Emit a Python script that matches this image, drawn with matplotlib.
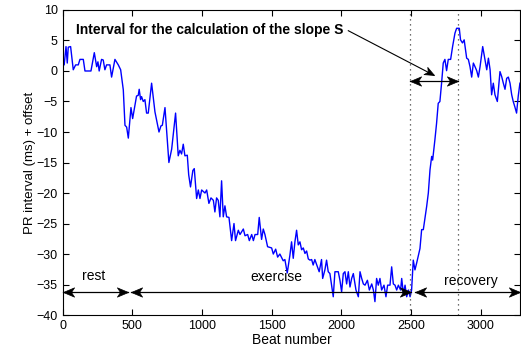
import matplotlib
matplotlib.use("Agg")
import matplotlib.pyplot as plt
import numpy as np
from matplotlib.path import Path
from matplotlib.markers import MarkerStyle
from matplotlib.transforms import Affine2D

plt.rcParams['font.family'] = ['Liberation Sans', 'DejaVu Sans']

# beat number / PR interval (ms) + offset
beats = [0, 12, 25, 34, 41, 58, 77, 94, 113, 125, 149, 161, 204, 228, 245, 254,
         263, 280, 292, 304, 316, 340, 352, 376, 400, 417, 436, 448, 460, 472,
         491, 503, 531, 543, 550, 560, 567, 579, 591, 603, 615, 639, 663, 692,
         706, 716, 735, 763, 783, 811, 830, 842, 854, 866, 878, 895, 905, 918,
         935, 945, 952, 962, 974, 986, 998, 1022, 1034, 1050, 1065, 1082, 1093,
         1105, 1117, 1129, 1141, 1153, 1165, 1177, 1194, 1213, 1230, 1241, 1261,
         1273, 1297, 1309, 1328, 1340, 1357, 1369, 1381, 1400, 1411, 1428, 1440,
         1452, 1471, 1500, 1512, 1529, 1543, 1559, 1583, 1595, 1612, 1631, 1643,
         1655, 1667, 1679, 1691, 1703, 1715, 1727, 1739, 1751, 1763, 1775, 1787,
         1798, 1810, 1827, 1841, 1858, 1866, 1882, 1894, 1906, 1918, 1930, 1942,
         1954, 1978, 1990, 2002, 2014, 2026, 2038, 2050, 2062, 2074, 2086, 2105,
         2122, 2134, 2146, 2158, 2170, 2187, 2201, 2218, 2230, 2241, 2253, 2265,
         2277, 2289, 2306, 2320, 2332, 2349, 2361, 2373, 2385, 2397, 2409, 2425,
         2433, 2445, 2457, 2469, 2481, 2493, 2504, 2516, 2528, 2540, 2564, 2576,
         2588, 2612, 2624, 2636, 2648, 2655, 2671, 2683, 2695, 2707, 2719, 2731,
         2743, 2755, 2767, 2784, 2798, 2815, 2827, 2846, 2855, 2869, 2881, 2899,
         2911, 2923, 2935, 2947, 2959, 2971, 2983, 2995, 3014, 3031, 3043, 3055,
         3067, 3078, 3090, 3102, 3119, 3138, 3150, 3162, 3174, 3186, 3198, 3210,
         3222, 3233, 3245, 3257, 3269, 3281]
pr = [1.8, 1.0, 4.0, 1.3, 3.9, 4.0, 0.2, 1.0, 1.0, 1.9, 1.9, 0.0, 0.0, 3.0, 0.7, 1.5,
      0.0, 1.9, 1.8, 0.2, 1.0, 1.0, -1.0, 1.9, 1.0, 0.2, -3.1, -8.9, -9.2, -11.0,
      -6.0, -7.8, -4.1, -4.0, -3.0, -4.7, -4.2, -5.0, -4.7, -6.9, -6.9, -2.0, -6.7, -10.0,
      -9.0, -8.9, -6.0, -15.0, -12.8, -6.9, -13.9, -13.0, -13.6, -12.0, -13.9, -13.8, -17.0, -19.0,
      -16.3, -16.0, -18.0, -20.9, -19.5, -20.9, -19.5, -20.0, -19.5, -21.7, -20.8, -21.2, -23.1,
      -20.8, -21.2, -23.9, -18.0, -23.9, -22.1, -23.9, -24.0, -27.8, -25.0, -27.8, -26.1,
      -26.8, -25.9, -27.0, -26.8, -27.8, -26.8, -27.8, -26.8, -26.8, -24.0, -27.6, -25.9,
      -26.8, -28.8, -29.0, -30.0, -29.2, -30.5, -30.0, -31.1, -30.9, -33.1, -30.2, -28.0,
      -30.7, -28.0, -26.1, -28.5, -28.0, -29.3, -29.0, -29.9, -29.5, -30.8, -31.0, -30.9,
      -31.8, -30.9, -32.0, -32.9, -30.9, -34.0, -32.6, -31.0, -32.9, -33.2, -35.1, -37.0,
      -32.9, -32.9, -34.3, -36.2, -33.2, -32.9, -34.9, -32.9, -35.4, -34.0, -33.2, -35.9,
      -37.0, -32.9, -34.0, -34.9, -35.1, -34.3, -35.9, -34.9, -35.9, -37.8, -34.0, -35.1,
      -34.0, -35.9, -35.1, -37.0, -35.1, -35.1, -32.1, -34.9, -35.1, -35.9, -35.1, -35.9,
      -34.0, -36.5, -35.1, -37.0, -35.9, -37.0, -35.9, -31.0, -32.6, -31.5, -29.1, -26.0,
      -26.0, -22.2, -20.0, -16.2, -14.0, -14.6, -11.3, -8.6, -5.3, -5.0, -2.0, 1.3,
      1.9, 0.05, 1.9, 1.9, 4.0, 6.2, 7.0, 7.0, 5.1, 4.6, 5.1, 2.1,
      1.9, 0.7, -1.0, 1.3, 0.7, 0.05, -1.0, 0.7, 4.0, 1.8, 0.2, 2.1,
      0.2, -3.9, -2.0, -3.9, -5.0, -0.1, -0.9, -2.0, -3.0, -1.2, -1.0, -2.0,
      -3.9, -5.0, -5.9, -6.9, -4.1, -2.0]

phase_names = ['rest', 'exercise', 'recovery']
phase_start = [0, 491, 2528]
phase_end = [470, 2497, 3285]
label_x = [225, 1536, 2930]
label_y = [-33.6, -33.8, -34.4]
slope_window = [2490, 2835]

fig = plt.figure(figsize=(5.21, 3.56), dpi=100)
ax = fig.add_axes([0.120, 0.115, 0.879, 0.857])
ax.set_xlim(0, 3285)
ax.set_ylim(-40, 10)

ax.plot(beats, pr, color='blue', lw=1.0)

# concave arrow head, tip at origin pointing to +x
head = Path([(0, 0), (-1, 0.42), (-0.72, 0), (-1, -0.42), (0, 0)],
            [Path.MOVETO, Path.LINETO, Path.LINETO, Path.LINETO, Path.CLOSEPOLY])


def head_marker(angle):
    return MarkerStyle(head, transform=Affine2D().rotate_deg(angle))


def arrow(x0, y0, x1, y1, both=True, ms=16, lw=0.9):
    p0, p1 = ax.transData.transform([(x0, y0), (x1, y1)])
    ang = np.degrees(np.arctan2(p1[1] - p0[1], p1[0] - p0[0]))
    ax.plot([x0, x1], [y0, y1], color='black', lw=lw, clip_on=False)
    ax.plot([x1], [y1], marker=head_marker(ang), ms=ms, color='black',
            mew=0.5, clip_on=False)
    if both:
        ax.plot([x0], [y0], marker=head_marker(ang + 180), ms=ms,
                color='black', mew=0.5, clip_on=False)


# dotted markers of the slope interval
for xv in slope_window:
    ax.axvline(xv, color='0.25', lw=0.9, ls=(0, (1.0, 3.0)))

arrow(slope_window[0], -1.6, slope_window[1], -1.6)

ax.text(94, 6.7, 'Interval for the calculation of the slope S',
        fontsize=10, fontweight='bold', va='center', ha='left')
arrow(2050, 6.6, 2664, -0.7, both=False, ms=14, lw=0.8)

for name, x0, x1, lx, ly in zip(phase_names, phase_start, phase_end, label_x, label_y):
    arrow(x0, -36.3, x1, -36.3)
    ax.text(lx, ly, name, ha='center', va='center', fontsize=10)

ax.set_xticks(range(0, 3001, 500))
ax.set_yticks(range(-40, 11, 5))
ax.tick_params(direction='in', top=True, right=True, labelsize=9, length=4)
ax.set_xlabel('Beat number', fontsize=10, labelpad=1)
ax.set_ylabel('PR interval (ms) + offset', fontsize=9.5, labelpad=0)

fig.savefig('out.png', dpi=100)
